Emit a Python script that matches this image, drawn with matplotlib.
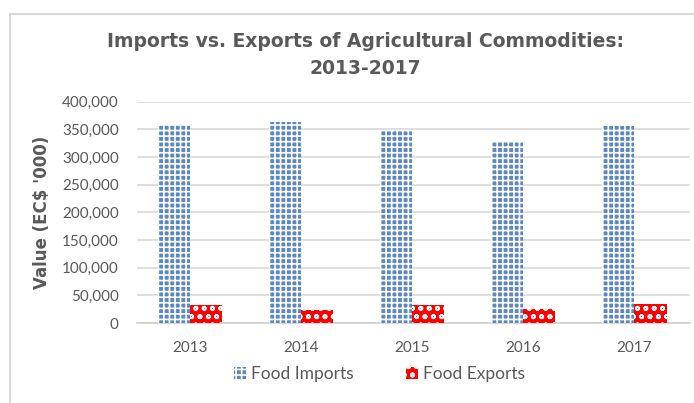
import matplotlib
matplotlib.use('Agg')
import matplotlib.pyplot as plt
from matplotlib.patches import Rectangle
from matplotlib.ticker import FuncFormatter
import numpy as np

years = ['2013', '2014', '2015', '2016', '2017']
food_imports = [358000, 363000, 346000, 328000, 355000]
food_exports = [33000, 24000, 33000, 25000, 35500]

grey = '#595959'
plt.rcParams['hatch.linewidth'] = 1.2

fig = plt.figure(figsize=(6.94, 4.03), dpi=100)
ax = fig.add_axes([0.197, 0.198, 0.797, 0.550])

# chart border, runs off the right/bottom edge like the screenshot
fig.patches.append(Rectangle((0.0144, -0.2), 1.2, 1.165, transform=fig.transFigure,
                             fill=False, edgecolor='#d9d9d9', linewidth=1.5))

x = np.arange(len(years))
w = 0.29
ax.bar(x - w / 2, food_imports, w, color='#5b87c5', edgecolor='white',
       linewidth=0, hatch='+++', label='Food Imports', zorder=3)
ax.bar(x + w / 2, food_exports, w, color='#ff0000', edgecolor='white',
       linewidth=0, hatch='oo', label='Food Exports', zorder=3)

ax.set_xlim(-0.48, 4.5)
ax.set_ylim(0, 400000)
ax.set_yticks(np.arange(0, 400001, 50000))
ax.yaxis.set_major_formatter(FuncFormatter(lambda v, p: f'{int(v):,}'))
ax.set_xticks(x)
ax.set_xticklabels(years)
ax.tick_params(axis='y', length=0, labelsize=11, labelcolor=grey, pad=13)
ax.tick_params(axis='x', length=0, labelsize=11, labelcolor=grey, pad=13)
for lab in ax.get_xticklabels() + ax.get_yticklabels():
    lab.set_family('Lato')
ax.grid(axis='y', color='#d9d9d9', linewidth=1.2, zorder=0)
for s in ['left', 'right', 'top']:
    ax.spines[s].set_visible(False)
ax.spines['bottom'].set_color('#d0d0d0')
ax.spines['bottom'].set_linewidth(1.2)

ax.set_ylabel("Value (EC$ '000)", fontsize=12, fontweight='bold', color=grey,
              family='DejaVu Sans', labelpad=8)

fig.text(0.527, 0.864, 'Imports vs. Exports of Agricultural Commodities:\n2013-2017',
         ha='center', va='center', fontsize=13.5, fontweight='bold', color=grey,
         family='DejaVu Sans', linespacing=1.5)

leg = fig.legend(loc='center', bbox_to_anchor=(0.547, 0.072), ncol=2, frameon=False,
                 prop={'family': 'Lato', 'size': 12.5}, handlelength=0.7,
                 handleheight=0.7, columnspacing=3.0, handletextpad=0.3)
for t in leg.get_texts():
    t.set_color(grey)

fig.savefig('out.png', dpi=100)
